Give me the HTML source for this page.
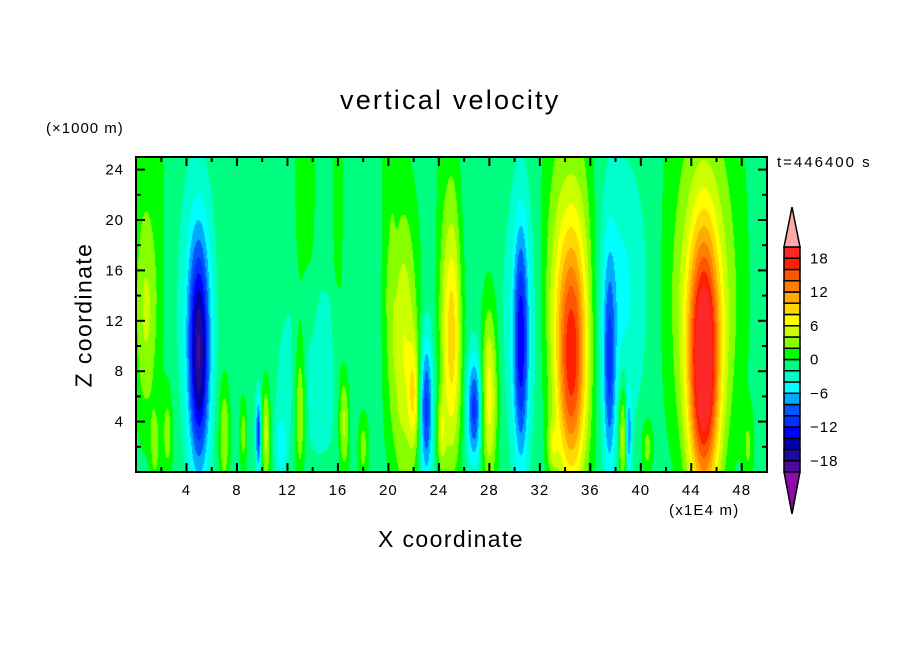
<!DOCTYPE html>
<html><head><meta charset="utf-8">
<style>
body{margin:0;background:#fff;}
#root{position:relative;width:904px;height:654px;overflow:hidden;background:#fff;font-family:"Liberation Sans",sans-serif;color:#000;}
.t{position:absolute;white-space:nowrap;}
canvas{position:absolute;left:136px;top:157px;}
svg{position:absolute;left:0;top:0;}
</style></head><body>
<div id="root">
<div class="t" style="left:340px;top:85px;font-size:27px;letter-spacing:2.2px;">vertical velocity</div>
<div class="t" style="left:46px;top:120px;font-size:15px;letter-spacing:1px;">(×1000 m)</div>
<div class="t" style="left:777px;top:154px;font-size:15px;letter-spacing:2px;">t=446400 s</div>
<div class="t" style="left:378px;top:526px;font-size:23px;letter-spacing:1.4px;">X coordinate</div>
<div class="t" style="left:669px;top:502px;font-size:15px;letter-spacing:1.2px;">(x1E4 m)</div>
<div class="t" style="left:84px;top:315px;font-size:23px;letter-spacing:1.4px;transform:translate(-50%,-50%) rotate(-90deg);">Z coordinate</div>
<canvas id="cv" width="631" height="315"></canvas>
<svg id="sv" width="904" height="654"></svg>
</div>
<script>
// data arrays
const fx  = [5.0, 4.8, 45.0, 45.0, 34.5, 34.6, 21.2, 25.0, 30.5, 30.5, 37.5, 38.0, 23.0, 26.8, 28.0, 38.7, 39.0, 0.8, 13.0, 16.5, 10.3, 9.7, 7.0, 14.0, 2.5, 22.0, 8.5, 11.5, 18.0, 24.2, 33.0, 40.5, 48.5, 1.5];
const fz  = [9, 13, 8, 12, 8, 14, 10, 10, 10, 12, 8, 14, 5, 5, 6, 3, 3, 12, 5, 4, 3, 3, 3, 8, 3, 6, 3, 2, 2, 3, 2, 2, 2, 2];
const famp= [-14, -4, 19, 5, 14, 5, 7, 9, -10, -3, -8, -4, -10, -10, 8, 8, -10, 4, 6, 6, 6, -10, 5, -2.5, 4, 6, 4, -4, 4, 5, 4, 4, 3, 4];
const fsx = [0.55, 0.9, 0.85, 1.8, 0.85, 1.5, 0.8, 0.55, 0.4, 1.0, 0.35, 1.6, 0.35, 0.4, 0.45, 0.3, 0.2, 0.6, 0.3, 0.3, 0.25, 0.15, 0.3, 2.0, 0.3, 0.3, 0.2, 0.3, 0.3, 0.25, 0.3, 0.3, 0.3, 0.25];
const fsz = [6, 7, 7.5, 9, 7, 8, 8, 7, 6.5, 7, 6, 7, 4, 3, 5, 3, 2.5, 6, 4, 3, 3, 2, 3, 5, 2.5, 3, 2, 2, 2, 2, 1.5, 1.5, 2, 2];
const bandX = [1.1, 13.4, 16.0, 20.0, 24.7, 34.2, 45.0];
const bandW = [1.1, 0.8, 0.4, 0.45, 0.8, 1.7, 2.8];
const levels = [-20,-18,-16,-14,-12,-10,-8,-6,-4,-2,0,2,4,6,8,10,12,14,16,18,20];
const colors = ["#4a0aa0","#1a0aa0","#0000a8","#0000ff","#0033ff","#0058ff","#00aaff","#00ffff","#00ffcc","#00ff80","#00ff00","#88ff00","#ccff00","#ffff00","#ffd800","#ffaa00","#ff7f00","#ff5500","#ff2000","#ff2828"];
const cbLabels = [18,12,6,0,-6,-12,-18];
const xTicks = [4,8,12,16,20,24,28,32,36,40,44,48];
const yTicks = [4,8,12,16,20,24];

const L=136,T=157,W=631,H=315,XMAX=50,ZMAX=25;
const sx=x=>L+x/XMAX*W, sy=z=>T+H-z/ZMAX*H;
function val(x,z){
  let v=-1;
  for(let i=0;i<bandX.length;i++){const d=(x-bandX[i])/bandW[i];v+=1.6*Math.exp(-d*d*d*d/2)*(z>14?1:z/14);}
  for(let i=0;i<fx.length;i++){const a=(x-fx[i])/fsx[i],b=(z-fz[i])/fsz[i];v+=famp[i]*Math.exp(-(a*a+b*b)/2);}
  return v;
}
function rgb(h){return [parseInt(h.slice(1,3),16),parseInt(h.slice(3,5),16),parseInt(h.slice(5,7),16)];}
const rgbs=colors.map(rgb);
const cv=document.getElementById('cv'),ctx=cv.getContext('2d'),img=ctx.createImageData(W,H);
for(let py=0;py<H;py++)for(let px=0;px<W;px++){
  const x=(px+0.5)/W*XMAX,z=ZMAX-(py+0.5)/H*ZMAX;const v=val(x,z);
  let k=Math.floor((v-levels[0])/2);k=Math.max(0,Math.min(colors.length-1,k));
  const c=rgbs[k],o=(py*W+px)*4;img.data[o]=c[0];img.data[o+1]=c[1];img.data[o+2]=c[2];img.data[o+3]=255;}
ctx.putImageData(img,0,0);

const NS="http://www.w3.org/2000/svg",sv=document.getElementById('sv');
function el(t,a){const e=document.createElementNS(NS,t);for(const k in a)e.setAttribute(k,a[k]);sv.appendChild(e);return e;}
const frame=el('rect',{x:L,y:T,width:W,height:H,fill:'none',stroke:'#000','stroke-width':2});


for(let x=2;x<XMAX;x+=2){const len=x%4===0?9:5;
  el('line',{x1:sx(x),x2:sx(x),y1:T+H,y2:T+H-len,stroke:'#000','stroke-width':2});
  el('line',{x1:sx(x),x2:sx(x),y1:T,y2:T+len,stroke:'#000','stroke-width':2});}
for(let z=2;z<ZMAX;z+=2){const len=z%4===0?9:5;
  el('line',{x1:L,x2:L+len,y1:sy(z),y2:sy(z),stroke:'#000','stroke-width':2});
  el('line',{x1:L+W,x2:L+W-len,y1:sy(z),y2:sy(z),stroke:'#000','stroke-width':2});}
xTicks.forEach(v=>{const t=el('text',{x:sx(v),y:495,'text-anchor':'middle','font-size':15,'letter-spacing':1,'font-family':'Liberation Sans, sans-serif'});t.textContent=v;
  
  });
yTicks.forEach(v=>{const t=el('text',{x:124,y:sy(v)+5,'text-anchor':'end','font-size':15,'letter-spacing':1,'font-family':'Liberation Sans, sans-serif'});t.textContent=v;
  
  });
// colorbar
const CX=784,CW=16,CT=247,CB=472,bh=(CB-CT)/colors.length;
for(let i=0;i<colors.length;i++){const r=el('rect',{x:CX,y:CB-(i+1)*bh,width:CW,height:bh,fill:colors[i],stroke:'#000','stroke-width':1.5});
  
  }
const up=el('polygon',{points:`${CX},${CT} ${CX+CW},${CT} ${CX+CW/2},207`,fill:'#ffaaaa',stroke:'#000','stroke-width':1.5});


const dn=el('polygon',{points:`${CX},${CB} ${CX+CW},${CB} ${CX+CW/2},514`,fill:'#8e0aa8',stroke:'#000','stroke-width':1.5});


cbLabels.forEach(v=>{const y=CB-(v-levels[0])/2*bh;const t=el('text',{x:810,y:y+5,'font-size':15,'letter-spacing':1,'font-family':'Liberation Sans, sans-serif'});t.textContent=(v<0?'\u2212'+(-v):v);
  
  });
</script>
</body></html>
